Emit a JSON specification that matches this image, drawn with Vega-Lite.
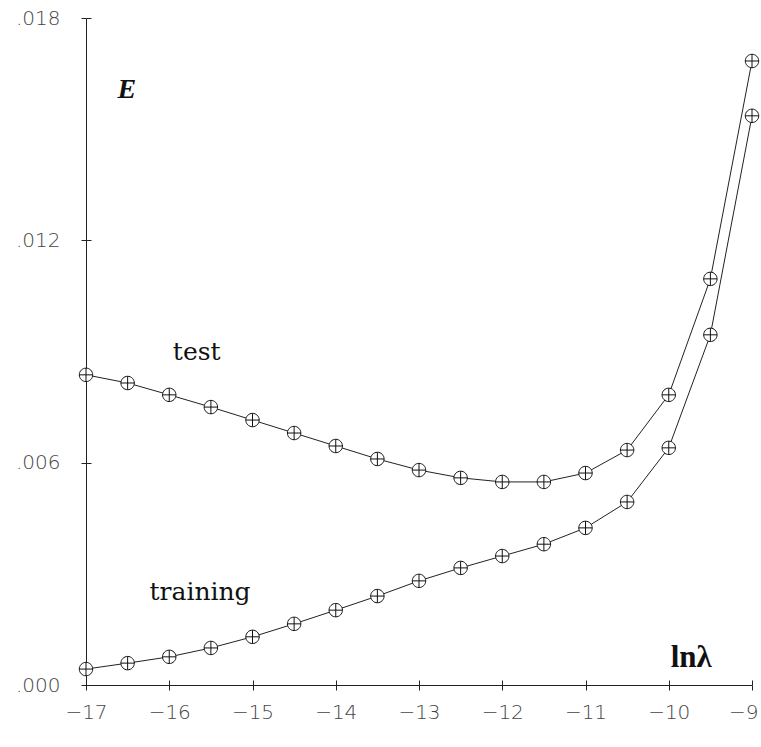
{
  "$schema": "https://vega.github.io/schema/vega-lite/v6.json",
  "width": 666,
  "height": 667,
  "autosize": "none",
  "padding": {"left": 86, "top": 18, "right": 9, "bottom": 62},
  "background": "white",
  "config": {"view": {"stroke": null}},
  "datasets": {
    "curves": [
      {"lnlambda": -17, "E": 0.00837, "set": "test"},
      {"lnlambda": -16.5, "E": 0.00815, "set": "test"},
      {"lnlambda": -16, "E": 0.00783, "set": "test"},
      {"lnlambda": -15.5, "E": 0.0075, "set": "test"},
      {"lnlambda": -15, "E": 0.00715, "set": "test"},
      {"lnlambda": -14.5, "E": 0.0068, "set": "test"},
      {"lnlambda": -14, "E": 0.00645, "set": "test"},
      {"lnlambda": -13.5, "E": 0.0061, "set": "test"},
      {"lnlambda": -13, "E": 0.0058, "set": "test"},
      {"lnlambda": -12.5, "E": 0.00559, "set": "test"},
      {"lnlambda": -12, "E": 0.00548, "set": "test"},
      {"lnlambda": -11.5, "E": 0.00548, "set": "test"},
      {"lnlambda": -11, "E": 0.00572, "set": "test"},
      {"lnlambda": -10.5, "E": 0.00634, "set": "test"},
      {"lnlambda": -10, "E": 0.00783, "set": "test"},
      {"lnlambda": -9.5, "E": 0.01096, "set": "test"},
      {"lnlambda": -9, "E": 0.01684, "set": "test"},
      {"lnlambda": -17, "E": 0.00043, "set": "training"},
      {"lnlambda": -16.5, "E": 0.00059, "set": "training"},
      {"lnlambda": -16, "E": 0.00076, "set": "training"},
      {"lnlambda": -15.5, "E": 0.001, "set": "training"},
      {"lnlambda": -15, "E": 0.0013, "set": "training"},
      {"lnlambda": -14.5, "E": 0.00165, "set": "training"},
      {"lnlambda": -14, "E": 0.00202, "set": "training"},
      {"lnlambda": -13.5, "E": 0.0024, "set": "training"},
      {"lnlambda": -13, "E": 0.00281, "set": "training"},
      {"lnlambda": -12.5, "E": 0.00316, "set": "training"},
      {"lnlambda": -12, "E": 0.00348, "set": "training"},
      {"lnlambda": -11.5, "E": 0.0038, "set": "training"},
      {"lnlambda": -11, "E": 0.00424, "set": "training"},
      {"lnlambda": -10.5, "E": 0.00494, "set": "training"},
      {"lnlambda": -10, "E": 0.0064, "set": "training"},
      {"lnlambda": -9.5, "E": 0.00945, "set": "training"},
      {"lnlambda": -9, "E": 0.01536, "set": "training"}
    ],
    "labels": [
      {"lnlambda": -16.51, "E": 0.01606, "label": "E", "kind": "axisname"},
      {"lnlambda": -15.67, "E": 0.00899, "label": "test", "kind": "series"},
      {"lnlambda": -15.63, "E": 0.00251, "label": "training", "kind": "series"},
      {"lnlambda": -9.73, "E": 0.00073, "label": "lnλ", "kind": "xname"}
    ]
  },
  "resolve": {"axis": {"x": "independent", "y": "independent"}},
  "layer": [
    {
      "data": {"name": "curves"},
      "mark": {"type": "line", "color": "#222", "strokeWidth": 1},
      "encoding": {
        "x": {
          "field": "lnlambda", "type": "quantitative",
          "scale": {"domain": [-17, -9], "nice": false, "zero": false},
          "axis": {
            "orient": "bottom", "title": null, "grid": false,
            "values": [-17, -16, -15, -14, -13, -12, -11, -10, -9],
            "tickSize": 5, "labelPadding": 12,
            "domainColor": "#222", "tickColor": "#222",
            "labelFont": "DejaVu Sans", "labelFontWeight": 200, "labelFontSize": 20,
            "labelColor": "#444", "labelFlush": false, "labelOverlap": false,
            "labelAlign": {"condition": {"test": "datum.value === -9", "value": "right"}, "value": "center"},
            "labelOffset": {"condition": {"test": "datum.value === -9", "value": 6}, "value": 0}
          }
        },
        "y": {
          "field": "E", "type": "quantitative",
          "scale": {"domain": [0, 0.018], "nice": false},
          "axis": {
            "orient": "left", "title": null, "grid": false,
            "values": [0, 0.006, 0.012, 0.018],
            "labelExpr": "replace(format(datum.value, '.3f'), '0.', '.')",
            "tickSize": 5, "labelPadding": 21,
            "domainColor": "#222", "tickColor": "#222",
            "labelFont": "DejaVu Sans", "labelFontWeight": 200, "labelFontSize": 20,
            "labelColor": "#444", "labelFlush": false, "labelOverlap": false
          }
        },
        "detail": {"field": "set", "type": "nominal"}
      }
    },
    {
      "data": {"name": "curves"},
      "mark": {
        "type": "point",
        "shape": "M-1,0A1,1,0,1,1,1,0A1,1,0,1,1,-1,0ZM-1,0L1,0M0,-1L0,1",
        "size": 180, "fill": "white", "stroke": "#111", "strokeWidth": 1, "opacity": 1
      },
      "encoding": {
        "x": {
          "field": "lnlambda", "type": "quantitative",
          "axis": {
            "orient": "bottom", "title": null, "grid": false, "labels": false, "domain": false,
            "values": [-17, -16, -15, -14, -13, -12, -11, -10, -9],
            "tickSize": -5, "tickColor": "#222"
          }
        },
        "y": {
          "field": "E", "type": "quantitative",
          "axis": {
            "orient": "left", "title": null, "grid": false, "labels": false, "domain": false,
            "values": [0, 0.006, 0.012, 0.018],
            "tickSize": -5, "tickColor": "#222"
          }
        }
      }
    },
    {
      "data": {"name": "labels"},
      "transform": [{"filter": "datum.kind === 'axisname'"}],
      "mark": {"type": "text", "font": "Liberation Serif", "fontStyle": "italic", "fontWeight": "bold", "fontSize": 28, "color": "#111"},
      "encoding": {
        "x": {"field": "lnlambda", "type": "quantitative", "axis": null},
        "y": {"field": "E", "type": "quantitative", "axis": null},
        "text": {"field": "label"}
      }
    },
    {
      "data": {"name": "labels"},
      "transform": [{"filter": "datum.kind === 'series'"}],
      "mark": {"type": "text", "font": "DejaVu Serif", "fontSize": 25, "color": "#111"},
      "encoding": {
        "x": {"field": "lnlambda", "type": "quantitative", "axis": null},
        "y": {"field": "E", "type": "quantitative", "axis": null},
        "text": {"field": "label"}
      }
    },
    {
      "data": {"name": "labels"},
      "transform": [{"filter": "datum.kind === 'xname'"}],
      "mark": {"type": "text", "font": "Liberation Serif", "fontWeight": "bold", "fontSize": 31, "color": "#111"},
      "encoding": {
        "x": {"field": "lnlambda", "type": "quantitative", "axis": null},
        "y": {"field": "E", "type": "quantitative", "axis": null},
        "text": {"field": "label"}
      }
    }
  ]
}
